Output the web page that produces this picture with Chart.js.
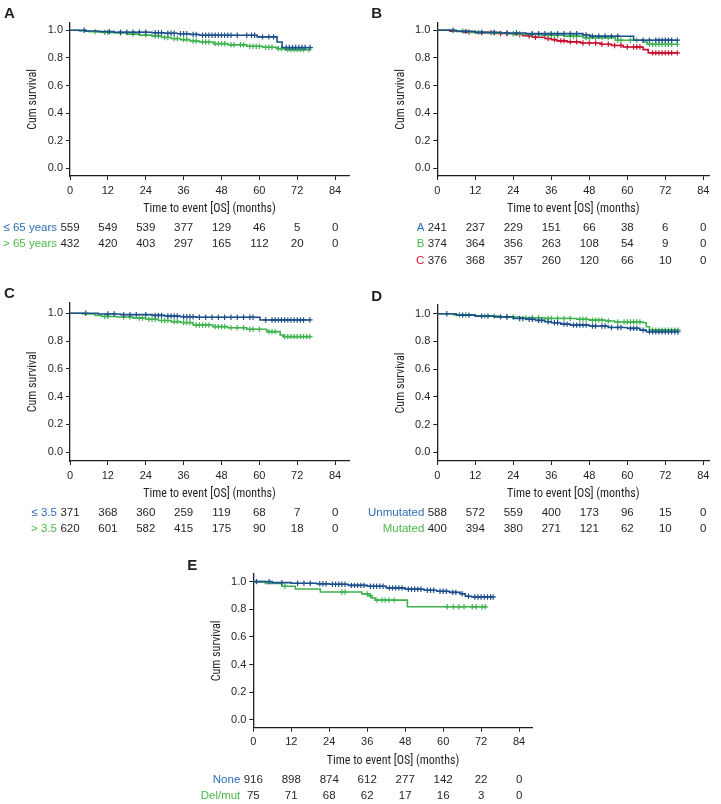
<!DOCTYPE html>
<html>
<head>
<meta charset="utf-8">
<title>Overall survival</title>
<script src="https://cdn.jsdelivr.net/npm/chart.js@4.4.1/dist/chart.umd.min.js"></script>
<style>
    html, body { margin: 0; padding: 0; background: #fff; }
    #fig { position: relative; width: 721px; height: 804px; overflow: hidden; }
    .panel { position: absolute; }
</style>
</head>
<body>
<div id="fig">
    <div class="panel" style="left:0;top:0;width:360px;height:275px"><canvas id="chartA"></canvas></div>
    <div class="panel" style="left:360px;top:0;width:361px;height:275px"><canvas id="chartB"></canvas></div>
    <div class="panel" style="left:0;top:280px;width:360px;height:260px"><canvas id="chartC"></canvas></div>
    <div class="panel" style="left:360px;top:280px;width:361px;height:260px"><canvas id="chartD"></canvas></div>
    <div class="panel" style="left:180px;top:550px;width:360px;height:254px"><canvas id="chartE"></canvas></div>
</div>
<script>
// ticks
const months = [0, 12, 24, 36, 48, 60, 72, 84];
const survTicks = [0, 0.2, 0.4, 0.6, 0.8, 1.0];

// A - age
const groupsA = ['≤ 65 years', '> 65 years'];
const atRiskA = [
    [559, 549, 539, 377, 129, 46, 5, 0],
    [432, 420, 403, 297, 165, 112, 20, 0]
];
const stepsA1 = [[0,1],[5,0.995],[9,0.99],[14,0.986],[26,0.982],[30,0.978],[34,0.975],[38,0.97],[41,0.964],[59.3,0.952],[65.6,0.915],[67.2,0.875],[76.1,0.875]];
const censA1 = [[4.5,1],[12.5,0.99],[16,0.986],[18,0.986],[20,0.986],[22,0.986],[24,0.986],[27,0.982],[28,0.982],[29,0.982],[31,0.978],[32,0.978],[33,0.978],[35,0.975],[36,0.975],[37,0.975],[39,0.97],[40,0.97],[42,0.964],[43,0.964],[44,0.964],[45,0.964],[46,0.964],[47,0.964],[48,0.964],[49,0.964],[50,0.964],[51,0.964],[53,0.964],[56,0.964],[57.5,0.964],[58.5,0.964],[61,0.952],[63,0.952],[64.5,0.952],[68.5,0.875],[69.5,0.875],[70.5,0.875],[71.5,0.875],[72.5,0.875],[73.5,0.875],[74.5,0.875],[76.1,0.875]];
const stepsA2 = [[0,1],[3,0.995],[6,0.99],[10,0.985],[14,0.98],[18,0.972],[22,0.965],[26,0.958],[29,0.948],[32,0.94],[35,0.932],[38,0.922],[41,0.915],[45.5,0.903],[50,0.895],[56,0.884],[61,0.877],[65.6,0.867],[68,0.86],[75.7,0.86]];
const censA2 = [[8,0.99],[11,0.985],[12,0.985],[16,0.98],[20,0.972],[24,0.965],[27,0.958],[28,0.958],[30,0.948],[31,0.948],[33,0.94],[34,0.94],[36,0.932],[37,0.932],[39,0.922],[40,0.922],[42,0.915],[43,0.915],[44,0.915],[46,0.903],[47,0.903],[48,0.903],[49,0.903],[51,0.895],[52,0.895],[54,0.895],[55,0.895],[57,0.884],[58,0.884],[59,0.884],[60,0.884],[62,0.877],[63,0.877],[64,0.877],[66,0.867],[67,0.867],[69,0.86],[70,0.86],[71,0.86],[72,0.86],[73,0.86],[74,0.86],[75.7,0.86]];

// B - risk groups
const groupsB = ['A', 'B', 'C'];
const atRiskB = [
    [241, 237, 229, 151, 66, 38, 6, 0],
    [374, 364, 356, 263, 108, 54, 9, 0],
    [376, 368, 357, 260, 120, 66, 10, 0]
];
const stepsB1 = [[0,1],[6,0.992],[12,0.985],[20,0.98],[28,0.976],[46,0.966],[48.3,0.957],[62,0.928],[75.8,0.928]];
const censB1 = [[5,1],[9,0.992],[14,0.985],[18,0.985],[22,0.98],[25,0.98],[30,0.976],[32,0.976],[34,0.976],[36,0.976],[38,0.976],[40,0.976],[42,0.976],[44,0.976],[47,0.966],[49,0.957],[51,0.957],[53,0.957],[55,0.957],[57,0.957],[65,0.928],[67,0.928],[69,0.928],[70,0.928],[71,0.928],[72,0.928],[73,0.928],[74,0.928],[75.8,0.928]];
const stepsB2 = [[0,1],[5,0.995],[10,0.985],[16,0.98],[22,0.975],[28,0.97],[33,0.964],[40,0.958],[46,0.947],[56.2,0.928],[65,0.915],[66.3,0.899],[75.8,0.899]];
const censB2 = [[8,0.995],[13,0.985],[18,0.98],[24,0.975],[26,0.975],[30,0.97],[32,0.97],[35,0.964],[36,0.964],[37,0.964],[38,0.964],[42,0.958],[43,0.958],[44,0.958],[47,0.947],[48,0.947],[50,0.947],[52,0.947],[54,0.947],[57,0.928],[58,0.928],[61,0.928],[63,0.928],[67,0.899],[68,0.899],[69,0.899],[70,0.899],[71,0.899],[72,0.899],[73,0.899],[74,0.899],[75.8,0.899]];
const stepsB3 = [[0,1],[4,0.993],[8,0.987],[12,0.983],[18,0.977],[24,0.97],[27,0.96],[30,0.95],[34,0.94],[36,0.932],[37.8,0.923],[41,0.916],[45.2,0.908],[51.5,0.899],[55,0.89],[58.7,0.879],[65,0.86],[66.6,0.836],[75.8,0.836]];
const censB3 = [[10,0.987],[14,0.983],[17,0.983],[20,0.977],[22,0.977],[26,0.97],[29,0.96],[31,0.95],[35,0.94],[37,0.932],[39,0.923],[40,0.923],[42,0.916],[44,0.916],[46,0.908],[48,0.908],[50,0.908],[52,0.899],[54,0.899],[56,0.89],[58,0.89],[60,0.879],[62,0.879],[63,0.879],[64,0.879],[68,0.836],[69,0.836],[70,0.836],[71,0.836],[72,0.836],[73,0.836],[74,0.836],[75.8,0.836]];

// C
const groupsC = ['≤ 3.5', '> 3.5'];
const atRiskC = [
    [371, 368, 360, 259, 119, 68, 7, 0],
    [620, 601, 582, 415, 175, 90, 18, 0]
];
const stepsC1 = [[0,1],[9,0.995],[16,0.99],[26,0.985],[30,0.98],[35,0.975],[40,0.971],[60.2,0.952],[76,0.952]];
const censC1 = [[5,1],[12,0.995],[14,0.995],[17,0.99],[19,0.99],[21,0.99],[24,0.99],[27,0.985],[28,0.985],[29,0.985],[31,0.98],[32,0.98],[33,0.98],[34,0.98],[36,0.975],[37,0.975],[38,0.975],[39,0.975],[41,0.971],[43,0.971],[45,0.971],[47,0.971],[49,0.971],[51,0.971],[53,0.971],[55,0.971],[57,0.971],[58,0.971],[62,0.952],[64,0.952],[65,0.952],[66,0.952],[67,0.952],[68,0.952],[69,0.952],[70,0.952],[71,0.952],[72,0.952],[73,0.952],[74,0.952],[76,0.952]];
const stepsC2 = [[0,1],[4,0.995],[8,0.985],[10,0.977],[15,0.973],[20,0.965],[24,0.957],[28,0.948],[32,0.94],[35,0.933],[39,0.916],[45.3,0.904],[50,0.896],[56,0.885],[62.3,0.868],[66.6,0.844],[67.6,0.832],[76,0.832]];
const censC2 = [[11,0.977],[12,0.977],[17,0.973],[19,0.973],[22,0.965],[23,0.965],[25,0.957],[26,0.957],[27,0.957],[29,0.948],[30,0.948],[31,0.948],[33,0.94],[34,0.94],[36,0.933],[37,0.933],[38,0.933],[40,0.916],[41,0.916],[42,0.916],[43,0.916],[44,0.916],[46,0.904],[47,0.904],[48,0.904],[49,0.904],[51,0.896],[53,0.896],[55,0.896],[57,0.885],[58,0.885],[60,0.885],[63,0.868],[64,0.868],[65,0.868],[68,0.832],[69,0.832],[70,0.832],[71,0.832],[72,0.832],[73,0.832],[74,0.832],[75,0.832],[76,0.832]];

// D - mutation status
const groupsD = ['Unmutated', 'Mutated'];
const atRiskD = [
    [588, 572, 559, 400, 173, 96, 15, 0],
    [400, 394, 380, 271, 121, 62, 10, 0]
];
const stepsD1 = [[0,1],[6,0.99],[12,0.983],[18,0.977],[24,0.966],[28,0.96],[31,0.952],[34,0.942],[36,0.935],[39,0.925],[42,0.918],[48,0.911],[54,0.901],[60,0.894],[64,0.882],[66,0.87],[76,0.87]];
const censD1 = [[3,1],[8,0.99],[10,0.99],[14,0.983],[16,0.983],[20,0.977],[22,0.977],[26,0.966],[27,0.966],[29,0.96],[30,0.96],[32,0.952],[33,0.952],[35,0.942],[37,0.935],[38,0.935],[40,0.925],[41,0.925],[43,0.918],[44,0.918],[45,0.918],[46,0.918],[47,0.918],[49,0.911],[50,0.911],[52,0.911],[53,0.911],[55,0.901],[57,0.901],[58,0.901],[61,0.894],[62,0.894],[63,0.894],[65,0.882],[67,0.87],[68,0.87],[69,0.87],[70,0.87],[71,0.87],[72,0.87],[73,0.87],[74,0.87],[75,0.87],[76,0.87]];
const stepsD2 = [[0,1],[5,0.993],[12,0.983],[20,0.976],[26,0.971],[34,0.966],[44,0.96],[48,0.954],[53,0.947],[56,0.94],[65,0.935],[66,0.906],[67,0.882],[76,0.882]];
const censD2 = [[7,0.993],[9,0.993],[15,0.983],[18,0.983],[22,0.976],[24,0.976],[28,0.971],[30,0.971],[32,0.971],[35,0.966],[36,0.966],[38,0.966],[40,0.966],[42,0.966],[45,0.96],[46,0.96],[47,0.96],[49,0.954],[50,0.954],[51,0.954],[52,0.954],[54,0.947],[57,0.94],[59,0.94],[60,0.94],[61,0.94],[62,0.94],[63,0.94],[64,0.94],[68,0.882],[69,0.882],[70,0.882],[71,0.882],[72,0.882],[73,0.882],[74,0.882],[75,0.882],[76,0.882]];

// E - del/mut
const groupsE = ['None', 'Del/mut'];
const atRiskE = [
    [916, 898, 874, 612, 277, 142, 22, 0],
    [75, 71, 68, 62, 17, 16, 3, 0]
];
const stepsE1 = [[0,1],[6,0.993],[12,0.988],[20,0.984],[24,0.981],[30,0.973],[36,0.966],[42,0.955],[48,0.945],[54,0.937],[58,0.93],[62,0.922],[65.4,0.912],[67,0.894],[69,0.889],[75.8,0.889]];
const censE1 = [[1,1],[5,1],[9,0.993],[14,0.988],[16,0.988],[18,0.988],[21,0.984],[22,0.984],[23,0.984],[25,0.981],[26,0.981],[27,0.981],[28,0.981],[29,0.981],[31,0.973],[32,0.973],[33,0.973],[34,0.973],[35,0.973],[37,0.966],[38,0.966],[39,0.966],[40,0.966],[41,0.966],[43,0.955],[44,0.955],[45,0.955],[46,0.955],[47,0.955],[49,0.945],[50,0.945],[51,0.945],[52,0.945],[53,0.945],[55,0.937],[56,0.937],[57,0.937],[59,0.93],[60,0.93],[61,0.93],[63,0.922],[64,0.922],[66,0.912],[68,0.894],[70,0.889],[71,0.889],[72,0.889],[73,0.889],[74,0.889],[75,0.889],[75.8,0.889]];
const stepsE2 = [[0,1],[3.8,0.986],[9,0.966],[13.3,0.947],[21.2,0.925],[34.3,0.911],[36.3,0.899],[37.4,0.882],[38.5,0.866],[48.7,0.818],[73.8,0.818]];
const censE2 = [[10,0.966],[28,0.925],[29,0.925],[36,0.911],[37,0.899],[39.1,0.866],[40.7,0.866],[41.7,0.866],[42.9,0.866],[44.5,0.866],[61.3,0.818],[63.2,0.818],[65,0.818],[66.6,0.818],[69.2,0.818],[70.4,0.818],[72.3,0.818],[73.3,0.818]];

const BLUE = '#1d4f8c', GREEN = '#3fb34f', RED = '#c8102e';
const BLUE_TXT = '#2f6db5', GREEN_TXT = '#4cb848', RED_TXT = '#d2143a';
const INK = '#231f20';
const TICK_FONT = { family: '"Liberation Sans", Arial, sans-serif', size: 11 };
const TITLE_FONT = { family: '"Liberation Sans Narrow", "Roboto Condensed", "DejaVu Sans Condensed", sans-serif', size: 12 };
const Y_AXIS_W = 45, X_AXIS_H = 44;

// canvas box and wanted plot area, in page pixels
const frames = {
    A: { box: [0, 0, 360, 275], area: [70, 349, 22.7, 176], y: [-0.056, 1.055], xMax: 88.4 },
    B: { box: [360, 0, 361, 275], area: [437.3, 709.3, 22.7, 176], y: [-0.056, 1.055], xMax: 85.9 },
    C: { box: [0, 280, 360, 260], area: [70, 349, 302.7, 461], y: [-0.063, 1.076], xMax: 88.4 },
    D: { box: [360, 280, 361, 260], area: [437.3, 709.3, 305, 461], y: [-0.063, 1.063], xMax: 85.9 },
    E: { box: [180, 550, 360, 254], area: [253.3, 532.7, 574, 727.7], y: [-0.056, 1.055], xMax: 88.3 }
};

function toXY(pairs) {
    return pairs.map(p => ({ x: p[0], y: p[1] }));
}

function riskTable(letter, groups, atRisk, labelColors) {
    return {
        id: 'riskTable' + letter,
        afterDraw(chart) {
            const { ctx, chartArea, scales } = chart;
            ctx.save();
            ctx.fillStyle = INK;
            ctx.font = 'bold 15px "Liberation Sans", Arial, sans-serif';
            ctx.textAlign = 'left';
            ctx.textBaseline = 'top';
            ctx.fillText(letter, chartArea.left - 66, chartArea.top - 16);

            ctx.font = '11.5px "Liberation Sans", Arial, sans-serif';
            ctx.textBaseline = 'middle';
            groups.forEach((g, i) => {
                const y = chartArea.bottom + 52 + 16.3 * i;
                ctx.textAlign = 'right';
                ctx.fillStyle = labelColors[i];
                ctx.fillText(g, chartArea.left - 13, y);
                ctx.textAlign = 'center';
                ctx.fillStyle = INK;
                atRisk[i].forEach((n, j) => {
                    ctx.fillText(String(n), scales.x.getPixelForValue(months[j]), y);
                });
            });
            ctx.restore();
        }
    };
}

function makePanel(letter, curves, groups, atRisk) {
    const f = frames[letter];
    const [bx, by, bw, bh] = f.box;
    const [l, r, t, b] = f.area;

    const datasets = [];
    curves.forEach(c => {
        datasets.push({
            type: 'line',
            data: toXY(c.steps),
            stepped: true,
            borderColor: c.color,
            borderWidth: 1.6,
            pointRadius: 0,
            fill: false
        });
        datasets.push({
            type: 'scatter',
            data: toXY(c.cens),
            showLine: false,
            pointStyle: 'cross',
            pointRadius: 2.7,
            borderColor: c.color,
            borderWidth: 1.2
        });
    });

    const axisCommon = {
        type: 'linear',
        grid: { drawOnChartArea: false, drawTicks: true, tickLength: 4, tickColor: INK, tickWidth: 1 },
        border: { display: true, color: INK, width: 1.3 }
    };

    new Chart(document.getElementById('chart' + letter), {
        data: { datasets: datasets },
        options: {
            responsive: true,
            maintainAspectRatio: false,
            animation: false,
            events: [],
            layout: {
                padding: {
                    left: l - bx - Y_AXIS_W,
                    right: bx + bw - r,
                    top: t - by,
                    bottom: by + bh - b - X_AXIS_H
                }
            },
            scales: {
                x: Object.assign({}, axisCommon, {
                    min: 0,
                    max: f.xMax,
                    afterBuildTicks: s => { s.ticks = months.map(v => ({ value: v })); },
                    afterFit: s => { s.height = X_AXIS_H; },
                    ticks: { color: INK, font: TICK_FONT, padding: 4, maxRotation: 0, autoSkip: false },
                    title: { display: true, text: 'Time to event [OS] (months)', color: INK, font: TITLE_FONT, padding: { top: 0, bottom: 4 } }
                }),
                y: Object.assign({}, axisCommon, {
                    min: f.y[0],
                    max: f.y[1],
                    afterBuildTicks: s => { s.ticks = survTicks.map(v => ({ value: v })); },
                    afterFit: s => { s.width = Y_AXIS_W; },
                    ticks: { color: INK, font: TICK_FONT, padding: 3, callback: v => v.toFixed(1) },
                    title: { display: true, text: 'Cum survival', color: INK, font: TITLE_FONT, padding: { top: 1, bottom: 0 } }
                })
            },
            plugins: {
                legend: { display: false },
                tooltip: { enabled: false }
            }
        },
        plugins: [riskTable(letter, groups, atRisk, curves.map(c => c.label))]
    });
}

makePanel('A', [
    { steps: stepsA1, cens: censA1, color: BLUE, label: BLUE_TXT },
    { steps: stepsA2, cens: censA2, color: GREEN, label: GREEN_TXT }
], groupsA, atRiskA);

makePanel('B', [
    { steps: stepsB1, cens: censB1, color: BLUE, label: BLUE_TXT },
    { steps: stepsB2, cens: censB2, color: GREEN, label: GREEN_TXT },
    { steps: stepsB3, cens: censB3, color: RED, label: RED_TXT }
], groupsB, atRiskB);

makePanel('C', [
    { steps: stepsC1, cens: censC1, color: BLUE, label: BLUE_TXT },
    { steps: stepsC2, cens: censC2, color: GREEN, label: GREEN_TXT }
], groupsC, atRiskC);

makePanel('D', [
    { steps: stepsD1, cens: censD1, color: BLUE, label: BLUE_TXT },
    { steps: stepsD2, cens: censD2, color: GREEN, label: GREEN_TXT }
], groupsD, atRiskD);

makePanel('E', [
    { steps: stepsE1, cens: censE1, color: BLUE, label: BLUE_TXT },
    { steps: stepsE2, cens: censE2, color: GREEN, label: GREEN_TXT }
], groupsE, atRiskE);
</script>
</body>
</html>
